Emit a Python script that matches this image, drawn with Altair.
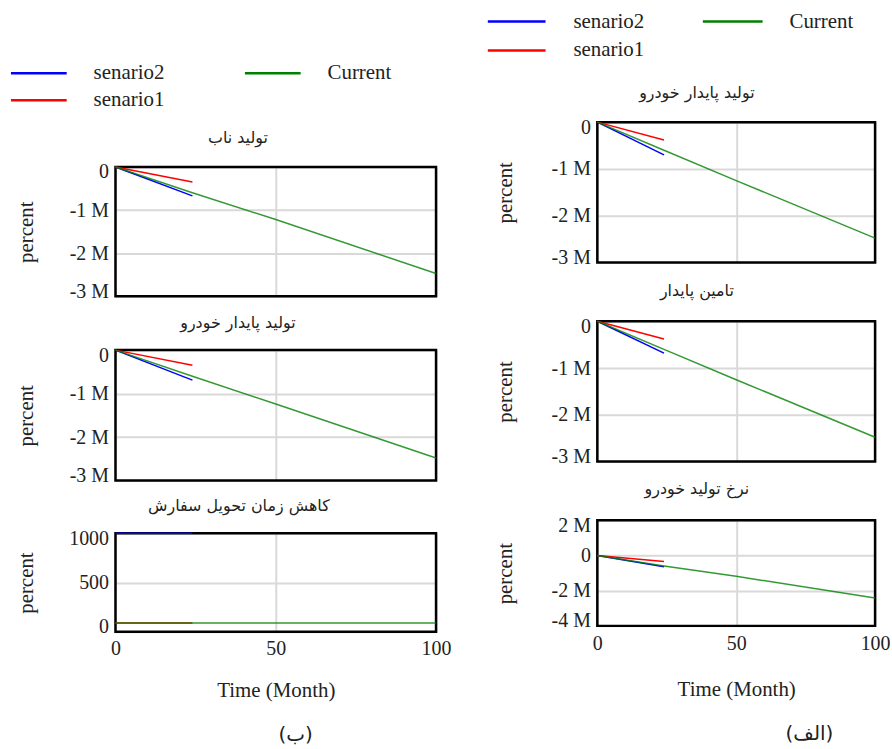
import altair as alt
import pandas as pd

# ---------------- data ----------------
series_names = ["senario2", "senario1", "Current"]
series_colors = ["#0000ff", "#ff0000", "#008000"]

time_current = [0, 24, 50, 100]
time_scenario = [0, 24]

x_ticks = [0, 50, 100]
x_title = "Time (Month)"
y_title = "percent"
captions = ["(ب)", "(الف)"]

left_titles = ["تولید ناب", "تولید پایدار خودرو", "کاهش زمان تحویل سفارش"]
left_current = [
    [0, -600000, -1220000, -2470000],
    [0, -600000, -1240000, -2480000],
    [90, 90, 90, 90],
]
left_senario1 = [[0, -350000], [0, -350000], [90, 90]]
left_senario2 = [[0, -670000], [0, -690000], [1000, 1000]]
left_ydomains = [[-3000000, 0], [-3000000, 0], [0, 1000]]
left_yticks = [
    [0, -1000000, -2000000, -3000000],
    [0, -1000000, -2000000, -3000000],
    [0, 500, 1000],
]

right_titles = ["تولید پایدار خودرو", "تامین پایدار", "نرخ تولید خودرو"]
right_current = [
    [0, -600000, -1250000, -2480000],
    [0, -600000, -1250000, -2480000],
    [0, -590000, -1180000, -2420000],
]
right_senario1 = [[0, -380000], [0, -380000], [0, -340000]]
right_senario2 = [[0, -700000], [0, -680000], [0, -640000]]
right_ydomains = [[-3000000, 0], [-3000000, 0], [-4000000, 2000000]]
right_yticks = [
    [0, -1000000, -2000000, -3000000],
    [0, -1000000, -2000000, -3000000],
    [2000000, 0, -2000000, -4000000],
]

# ---------------- styling ----------------
SERIF = "Liberation Serif"
ARABIC = "DejaVu Sans"
TEXT_COLOR = "#222222"
M_EXPR = "datum.value == 0 ? '0' : (datum.value / 1000000) + ' M'"


def anchor(x1, y1, x2, y2):
    return alt.Chart(pd.DataFrame({"a": [0]})).mark_rule(strokeOpacity=0).encode(
        x=alt.value(x1), y=alt.value(y1), x2=alt.value(x2), y2=alt.value(y2)
    )


def text_at(label, x, y, font, size, align="center"):
    return alt.Chart(pd.DataFrame({"label": [label]})).mark_text(
        font=font, fontSize=size, align=align, baseline="middle", color=TEXT_COLOR
    ).encode(x=alt.value(x), y=alt.value(y), text="label:N")


def make_panel(title, cur, s1, s2, ydom, yticks, w, h, box, title_xy, ytitle_x,
               m_labels=True, bottom=False, xlabel_pad=7, xtitle_y=59,
               caption=None, cap_xy=None):
    if bottom:
        xaxis = alt.Axis(values=x_ticks, labels=True, title=x_title, labelPadding=xlabel_pad,
                         labelFlush=False,
                         titleX=w / 2, titleY=xtitle_y, titleBaseline="middle", titleAlign="center")
    else:
        xaxis = alt.Axis(values=x_ticks, labels=False, title=None)
    common_y = dict(values=yticks, title=y_title, titleX=ytitle_x, titleY=h / 2, labelFlush=True,
                    labelFlushOffset=5,
                    titleAngle=270, titleAlign="center", titleBaseline="middle")
    if m_labels:
        yaxis = alt.Axis(labelExpr=M_EXPR, **common_y)
    else:
        yaxis = alt.Axis(format="d", **common_y)
    x = alt.X("t:Q", scale=alt.Scale(domain=[0, 100], nice=False, zero=False), axis=xaxis)
    y = alt.Y("v:Q", scale=alt.Scale(domain=ydom, nice=False, zero=False), axis=yaxis)

    layers = [
        anchor(box[0], box[1], box[2], box[3]),
        alt.Chart(pd.DataFrame({"a": [0]})).mark_rect(fill="white", fillOpacity=0, stroke="black", strokeWidth=2.5)
        .encode(x=alt.value(0), x2=alt.value(w), y=alt.value(0), y2=alt.value(h)),
    ]
    for name, color, ts, vs, op in [
        (series_names[0], series_colors[0], time_scenario, s2, 1.0),
        (series_names[1], series_colors[1], time_scenario, s1, 1.0),
        (series_names[2], series_colors[2], time_current, cur, 0.8),
    ]:
        df = pd.DataFrame({"t": ts, "v": vs, "series": [name] * len(ts)})
        layers.append(
            alt.Chart(df).mark_line(color=color, strokeWidth=1.5, strokeOpacity=op).encode(x=x, y=y)
        )
    layers.append(text_at(title, title_xy[0], title_xy[1], ARABIC, 16))
    if caption is not None:
        layers.append(text_at(caption, cap_xy[0], cap_xy[1], ARABIC, 20))
    return alt.layer(*layers).properties(width=w, height=h)


def make_legend(w, h, box, pos):
    layers = [anchor(box[0], box[1], box[2], box[3])]
    for name, color, (x1, x2, yy, tx) in zip(series_names, series_colors, pos):
        layers.append(
            alt.Chart(pd.DataFrame({"s": [name]})).mark_rule(color=color, strokeWidth=2.5)
            .encode(x=alt.value(x1), x2=alt.value(x2), y=alt.value(yy))
        )
        layers.append(text_at(name, tx, yy, SERIF, 21, align="left"))
    return alt.layer(*layers).properties(width=w, height=h)


# ---------------- left column ----------------
LW = 322
leg_left = make_legend(LW, 112, (-115, 0, 355, 112),
                       [(-105, -49, 71, -22), (-105, -49, 98, -22), (130, 186, 71, 213)])
pL1 = make_panel(left_titles[0], left_current[0], left_senario1[0], left_senario2[0],
                 left_ydomains[0], left_yticks[0], LW, 130, (-115, -51, 355, 143), (123, -29), -89)
pL2 = make_panel(left_titles[1], left_current[1], left_senario1[1], left_senario2[1],
                 left_ydomains[1], left_yticks[1], LW, 131, (-115, -39, 355, 142), (123, -27), -89)
pL3 = make_panel(left_titles[2], left_current[2], left_senario1[2], left_senario2[2],
                 left_ydomains[2], left_yticks[2], LW, 99, (-115, -40, 355, 215), (124, -27), -89,
                 m_labels=False, bottom=True, xlabel_pad=7, xtitle_y=59,
                 caption=captions[0], cap_xy=(181, 203))
left_col = alt.vconcat(leg_left, pL1, pL2, pL3, spacing=0)

# ---------------- right column ----------------
RW = 279
leg_right = make_legend(RW, 67, (-127, 0, 295, 67),
                        [(-110, -52, 19, -24), (-110, -52, 48, -24), (106, 166, 19, 193)])
pR1 = make_panel(right_titles[0], right_current[0], right_senario1[0], right_senario2[0],
                 right_ydomains[0], right_yticks[0], RW, 141, (-127, -51, 295, 153), (100, -29), -92)
pR2 = make_panel(right_titles[1], right_current[1], right_senario1[1], right_senario2[1],
                 right_ydomains[1], right_yticks[1], RW, 141, (-127, -45, 295, 151), (100, -30), -92)
pR3 = make_panel(right_titles[2], right_current[2], right_senario1[2], right_senario2[2],
                 right_ydomains[2], right_yticks[2], RW, 106, (-127, -47, 295, 228), (100, -31), -92,
                 bottom=True, xlabel_pad=8, xtitle_y=64,
                 caption=captions[1], cap_xy=(213, 215))
right_col = alt.vconcat(leg_right, pR1, pR2, pR3, spacing=0)

chart = (
    alt.hconcat(left_col, right_col, spacing=0)
    .properties(padding=0, background="white")
    .configure_view(stroke="transparent")
    .configure_axis(
        grid=True, gridColor="#d9d9d9", gridWidth=2, domain=False, ticks=False,
        labelFont=SERIF, labelFontSize=20, labelColor=TEXT_COLOR, labelPadding=7,
        labelOverlap=False,
        titleFont=SERIF, titleFontSize=21, titleFontWeight="normal", titleColor=TEXT_COLOR,
    )
)

chart.save("out.html", embed_options={"renderer": "svg", "actions": False})
